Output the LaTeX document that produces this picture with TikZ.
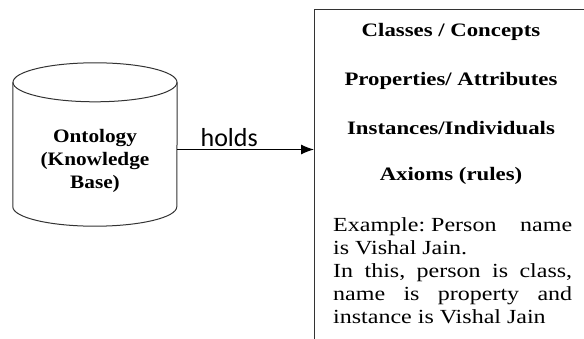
\documentclass[tikz,border=0pt]{standalone}
\usepackage{fontspec}
\usepackage{tikz}
\usetikzlibrary{arrows.meta}
\usetikzlibrary{positioning}
\newfontfamily\boxfont{Liberation Serif}[FakeStretch=1.2]
\newfontfamily\storefont{Liberation Serif}[FakeStretch=1.12]
\newfontfamily\holdsfont{Carlito}
\tikzset{
	outline/.style={draw=black!80, line width=1pt},
	storetext/.style={font=\storefont\bfseries\fontsize{19}{23}\selectfont, inner sep=0pt},
	heading/.style={font=\boxfont\bfseries\fontsize{19}{23}\selectfont, inner sep=0pt},
	plain/.style={font=\boxfont\fontsize{20}{23}\selectfont, inner sep=0pt}
}

\begin{document}
\frenchspacing
\begin{tikzpicture}[x=1pt,y=1pt]
		\useasboundingbox (0,0) rectangle (584,338);
		\clip (0,0) rectangle (584,338);
		% cylinder body between the centres of its two ends
		\path (95,193.5) node(onto)[minimum width=164pt, minimum height=124pt, inner sep=0pt]{}
		(95,177) node(ontotext)[storetext, align=center]{Ontology\\(Knowledge\\Base)}
		(314,329) node(facts)[outline, anchor=north west, minimum width=272pt, minimum height=340pt]{}
		(451,306) node(classes)[heading]{Classes / Concepts}
		(451,257) node(props)[heading]{Properties/ Attributes}
		(451,210) node(inst)[heading]{Instances/Individuals}
		(451,162) node(axioms)[heading]{Axioms (rules)}
		(333,121) node(example)[plain, anchor=north west, text width=239pt, align=justify]{Example: Person\hfill name\linebreak is Vishal Jain.\par In this, person is class,\linebreak name is property and\linebreak instance is Vishal Jain};
		\draw [outline] (onto.north west) -- (onto.south west) arc[start angle=180, end angle=360, x radius=82pt, y radius=19.5pt] -- (onto.north east);
		\draw [outline] (onto.north) ellipse [x radius=82pt, y radius=19.5pt];
		\coordinate (start) at ([yshift=-5pt]onto.east);
		\draw [line width=1pt, black, -{Latex[length=13pt,width=10pt]}] (start) -- (start -| facts.west) node[pos=0.38, above=2pt, font=\holdsfont\fontsize{26}{28}\selectfont, inner sep=0pt](holds){holds};
	\end{tikzpicture}
\end{document}
